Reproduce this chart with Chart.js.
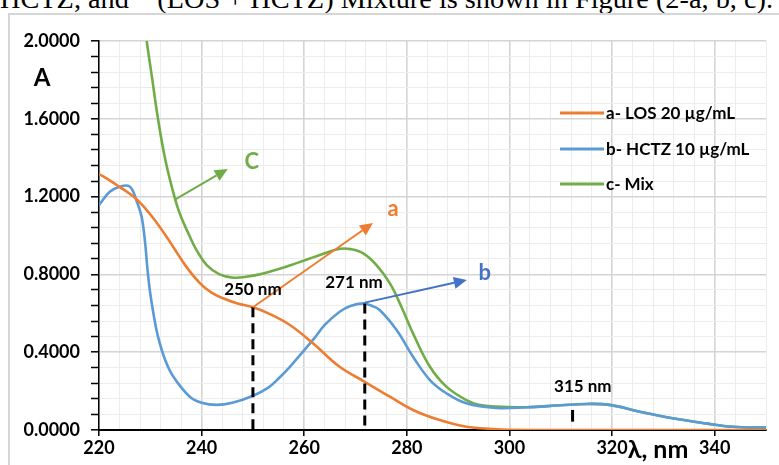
<!DOCTYPE html>
<html>
<head>
<meta charset="utf-8">
<script src="https://cdn.jsdelivr.net/npm/chart.js@4.4.1/dist/chart.umd.min.js"></script>
<style>
  html, body { margin: 0; padding: 0; background: #fff; overflow: hidden; }
  #wrap { position: relative; width: 779px; height: 465px; }
  #frame { position: absolute; left: 8px; top: 13px; right: -10px; bottom: -10px;
           border-left: 2px solid #d6d6d6; border-top: 2px solid #d6d6d6; }
  #caption { position: absolute; left: 0px; top: -15px; white-space: pre;
             font-family: "Liberation Serif", "Times New Roman", serif; font-size: 28px;
             line-height: 28px; color: #000; transform-origin: 0 0; }
  canvas { position: absolute; left: 0; top: 0; }
</style>
</head>
<body>
<div id="wrap">
  <div id="caption">HCTZ, and    (LOS + HCTZ) Mixture is shown in Figure (2-a, b, c).</div>
  <div id="frame"></div>
  <canvas id="c" width="779" height="465"></canvas>
</div>
<script>
// ---- data (wavelength nm, absorbance) ----
const losWl  = [220, 222, 224, 226.7, 229, 231, 233, 234.5, 237, 239.7, 242, 244.2, 247, 250, 253, 257.2, 261.7, 266.9, 271.8, 276.7, 281.2, 286.4, 291.6, 296.8, 300, 310, 350];
const losAbs = [1.316, 1.285, 1.25, 1.20, 1.14, 1.075, 1.0, 0.94, 0.84, 0.754, 0.705, 0.677, 0.65, 0.631, 0.60, 0.54, 0.446, 0.325, 0.248, 0.171, 0.103, 0.051, 0.017, 0.005, 0.001, 0, 0];

const hctzWl  = [220, 222.1, 224, 225.7, 226.5, 227.3, 228.3, 229, 229.4, 229.9, 230.6, 231.5, 232.9, 234.5, 237.7, 240, 242.9, 246, 249.9, 253, 255.2, 257.2, 261.7, 264, 266.9, 269, 271.5, 273, 274.7, 278, 281.2, 284.5, 287.7, 291.6, 297.4, 303.3, 310, 315, 319.5, 325.4, 331.8, 338.3, 343.5, 350];
const hctzAbs = [1.157, 1.225, 1.25, 1.256, 1.235, 1.18, 1.097, 0.96, 0.84, 0.72, 0.60, 0.48, 0.36, 0.274, 0.171, 0.14, 0.129, 0.14, 0.175, 0.218, 0.27, 0.325, 0.463, 0.54, 0.608, 0.638, 0.651, 0.64, 0.617, 0.514, 0.377, 0.257, 0.189, 0.137, 0.113, 0.117, 0.127, 0.134, 0.129, 0.094, 0.06, 0.034, 0.017, 0.012];

const mixWl  = [228, 229.3, 230.4, 231.5, 233, 234.8, 236, 237.7, 239, 241, 243.5, 246.2, 249, 252, 255.2, 258.5, 262, 265, 267, 269, 271.5, 274, 276.7, 279, 281.2, 284.5, 287.7, 291.6, 294, 297.4, 303.3, 310, 315, 319.5, 325.4, 331.8, 338.3, 343.5, 350];
const mixAbs = [2.27, 2.0, 1.80, 1.60, 1.38, 1.19, 1.095, 0.995, 0.925, 0.848, 0.80, 0.783, 0.789, 0.805, 0.829, 0.858, 0.89, 0.918, 0.932, 0.93, 0.908, 0.85, 0.754, 0.63, 0.497, 0.325, 0.223, 0.154, 0.13, 0.12, 0.117, 0.127, 0.134, 0.129, 0.094, 0.06, 0.034, 0.017, 0.012];

const seriesLabels = ['a- LOS 20 µg/mL', 'b- HCTZ 10 µg/mL', 'c- Mix'];
const xMajorTicks = [220, 240, 260, 280, 300, 320, 340];
const yMajorTicks = [0, 0.4, 0.8, 1.2, 1.6, 2.0];
const peakLabels = ['250 nm', '271 nm', '315 nm'];
const curveLetters = ['a', 'b', 'C'];

// ---- styling ----
const COLORS = ['#ED7D31', '#5B9BD5', '#70AD47'];
const FONT = 'Lato, "Open Sans", "DejaVu Sans", sans-serif';

function pts(xs, ys) { return xs.map((x, i) => ({ x: x, y: ys[i] })); }
function isMajorX(v) { return xMajorTicks.some(t => Math.abs(t - v) < 1e-6); }
function isMajorY(v) { return yMajorTicks.some(t => Math.abs(t - v) < 1e-6); }

// annotation geometry, in data units (wavelength, absorbance)
const annot = {
  dashed: [ { x: 250, y0: 0, y1: 0.631 }, { x: 271.8, y0: 0, y1: 0.651 } ],
  smallMark: { x: 312.3, y0: 0.043, y1: 0.103 },
  arrows: [
    { from: [250, 0.631], to: [273.4, 1.064], color: '#ED7D31' },
    { from: [271.8, 0.655], to: [291.7, 0.771], color: '#4472C4' },
    { from: [234.8, 1.185], to: [245.1, 1.342], color: '#70AD47' }
  ],
  letters: [
    { pos: [277.3, 1.136], color: '#ED7D31' },
    { pos: [295.2, 0.807], color: '#4472C4' },
    { pos: [249.8, 1.378], color: '#70AD47' }
  ],
  peaks: [ [250, 0.72], [269.7, 0.756], [314.3, 0.226] ]
};

const annotPlugin = {
  id: 'annot',
  afterDatasetsDraw(chart) {
    const ctx = chart.ctx, xs = chart.scales.x, ys = chart.scales.y;
    const X = v => xs.getPixelForValue(v), Y = v => ys.getPixelForValue(v);
    ctx.save();
    ctx.strokeStyle = '#000'; ctx.lineWidth = 3; ctx.setLineDash([10, 6]);
    annot.dashed.forEach(d => {
      ctx.beginPath(); ctx.moveTo(X(d.x), Y(d.y1)); ctx.lineTo(X(d.x), Y(d.y0)); ctx.stroke();
    });
    ctx.setLineDash([]);
    ctx.beginPath(); ctx.moveTo(X(annot.smallMark.x), Y(annot.smallMark.y1));
    ctx.lineTo(X(annot.smallMark.x), Y(annot.smallMark.y0)); ctx.stroke();
    annot.arrows.forEach(a => {
      const x0 = X(a.from[0]), y0 = Y(a.from[1]), x1 = X(a.to[0]), y1 = Y(a.to[1]);
      const ang = Math.atan2(y1 - y0, x1 - x0), L = 13, W = 6;
      const bx = x1 - L * Math.cos(ang), by = y1 - L * Math.sin(ang);
      ctx.strokeStyle = a.color; ctx.fillStyle = a.color; ctx.lineWidth = 2;
      ctx.beginPath(); ctx.moveTo(x0, y0); ctx.lineTo(bx, by); ctx.stroke();
      ctx.beginPath(); ctx.moveTo(x1, y1);
      ctx.lineTo(bx + W * Math.sin(ang), by - W * Math.cos(ang));
      ctx.lineTo(bx - W * Math.sin(ang), by + W * Math.cos(ang));
      ctx.closePath(); ctx.fill();
    });
    ctx.textAlign = 'center'; ctx.textBaseline = 'middle';
    ctx.font = 'bold 22px ' + FONT;
    annot.letters.forEach((l, i) => {
      ctx.fillStyle = l.color; ctx.fillText(curveLetters[i], X(l.pos[0]), Y(l.pos[1]));
    });
    ctx.fillStyle = '#000'; ctx.font = 'bold 17px ' + FONT;
    annot.peaks.forEach((p, i) => ctx.fillText(peakLabels[i], X(p[0]), Y(p[1])));
    ctx.restore();
  },
  afterDraw(chart) {
    const ctx = chart.ctx;
    ctx.save();
    const rows = [113, 149, 184];
    ctx.textAlign = 'left'; ctx.textBaseline = 'middle';
    ctx.font = 'bold 17px ' + FONT;
    chart.data.datasets.forEach((ds, i) => {
      ctx.strokeStyle = ds.borderColor; ctx.lineWidth = 3;
      ctx.beginPath(); ctx.moveTo(560, rows[i]); ctx.lineTo(604, rows[i]); ctx.stroke();
      ctx.fillStyle = '#000'; ctx.fillText(ds.label, 606, rows[i] + 1);
    });
    ctx.textAlign = 'center';
    ctx.font = 'bold 24px ' + FONT;
    ctx.fillText('A', 42, 78);
    ctx.font = 'bold 25px ' + FONT;
    ctx.fillText('λ, nm', 658, 450);
    ctx.restore();
  }
};

new Chart(document.getElementById('c'), {
  type: 'line',
  data: {
    datasets: [
      { label: seriesLabels[0], data: pts(losWl, losAbs), borderColor: COLORS[0] },
      { label: seriesLabels[1], data: pts(hctzWl, hctzAbs), borderColor: COLORS[1] },
      { label: seriesLabels[2], data: pts(mixWl, mixAbs), borderColor: COLORS[2] }
    ].map(d => Object.assign(d, { borderWidth: 2.6, pointRadius: 0, fill: false,
                                  tension: 0.4, clip: 0 }))
  },
  options: {
    responsive: false, animation: false, devicePixelRatio: 1,
    layout: { padding: { left: 0, right: 13, top: 41, bottom: 0 } },
    plugins: { legend: { display: false }, tooltip: { enabled: false } },
    scales: {
      x: {
        type: 'linear', min: 220, max: 350,
        afterFit(s) { s.height = 35; },
        ticks: { stepSize: 4, autoSkip: false, maxRotation: 0, padding: 1,
                 color: '#000', font: { family: FONT, size: 18, weight: 'bold' },
                 callback: v => isMajorX(v) ? String(v) : '' },
        grid: {
          color: c => isMajorX(c.tick.value) ? '#d4d4d4' : '#ececec',
          lineWidth: c => isMajorX(c.tick.value) ? 1.6 : 1,
          tickColor: c => isMajorX(c.tick.value) ? '#000' : 'rgba(0,0,0,0)',
          tickLength: 6, tickWidth: 1.5
        },
        border: { color: '#000', width: 2 }
      },
      y: {
        type: 'linear', min: 0, max: 2,
        afterFit(s) { s.width = 99; },
        ticks: { stepSize: 0.08, autoSkip: false, padding: 11,
                 color: '#000', font: { family: FONT, size: 18, weight: 'bold' },
                 callback: v => isMajorY(v) ? v.toFixed(4) : '' },
        grid: {
          color: c => isMajorY(c.tick.value) ? '#d4d4d4' : '#ececec',
          lineWidth: c => isMajorY(c.tick.value) ? 1.6 : 1,
          tickColor: '#000', tickLength: 8, tickWidth: 1.5
        },
        border: { color: '#000', width: 1.5 }
      }
    }
  },
  plugins: [annotPlugin]
});

(function () {
  const el = document.getElementById('caption');
  const w = el.getBoundingClientRect().width;
  el.style.transform = 'scaleX(' + (773 / w) + ')';
})();
</script>
</body>
</html>
